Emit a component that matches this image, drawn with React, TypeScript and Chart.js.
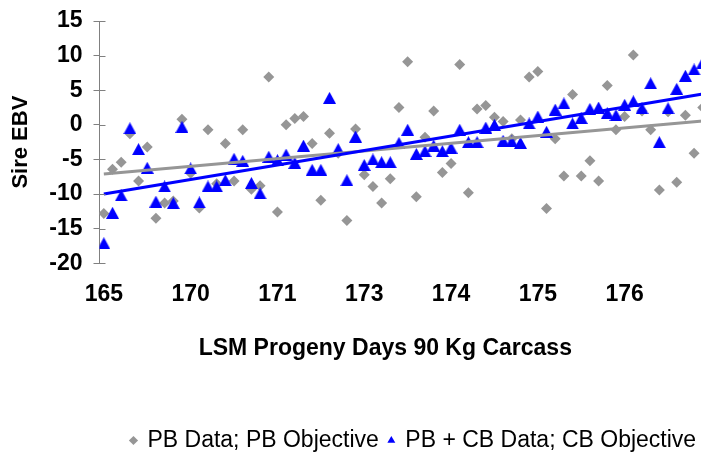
import React, { useEffect, useRef } from 'react';
import { Chart, registerables } from 'chart.js';

Chart.register(...registerables);

// Tick labels shown on the category axis (every 10th sire)
const tickLabels = ['165', '170', '171', '173', '174', '175', '176'];

// PB Data; PB Objective (grey diamonds), one value per sire in sorted order
const pbData = [
  -12.8, -6.4, -5.4, -1.3, -8.1, -3.2, -13.5, -11.3, -11.0, 0.8,
  -7.0, -12.0, -0.7, -8.5, -2.7, -8.1, -0.7, -9.3, -8.8, 6.9,
  -12.6, 0.0, 0.9, 1.2, -2.7, -10.9, -1.2, -4.1, -13.8, -0.6,
  -7.2, -8.9, -11.3, -7.8, 2.5, 9.1, -10.4, -1.8, 2.0, -6.9,
  -5.6, 8.7, -9.8, 2.3, 2.8, 1.1, 0.5, -2.0, 0.7, 6.9,
  7.7, -12.1, -2.0, -7.4, 4.4, -7.4, -5.2, -8.1, 5.7, -0.7,
  1.2, 10.1, 2.0, -0.7, -9.4, 1.9, -8.3, 1.4, -4.1, 2.5,
];

// PB + CB Data; CB Objective (blue triangles)
const cbData = [
  -17.1, -12.7, -10.2, -0.5, -3.5, -6.2, -11.1, -8.9, -11.3, -0.3,
  -6.3, -11.2, -8.9, -8.9, -8.0, -4.9, -5.2, -8.4, -9.9, -4.6,
  -5.1, -4.3, -5.5, -3.0, -6.5, -6.5, 3.9, -3.5, -8.0, -1.7,
  -5.8, -5.0, -5.4, -5.4, -2.6, -0.7, -4.2, -3.8, -3.0, -3.8,
  -3.3, -0.7, -2.5, -2.5, -0.4, 0.0, -2.3, -2.4, -2.6, 0.2,
  1.2, -1.0, 2.2, 3.1, 0.2, 1.0, 2.3, 2.5, 1.7, 1.4,
  2.9, 3.4, 2.4, 6.0, -2.5, 2.4, 5.2, 7.1, 8.0, 9.0,
];

// Linear trend lines (start / end values at first and last sire)
const trendX = [0, 69];
const pbTrend = [-7.1, 0.55];
const cbTrend = [-10.0, 4.45];

const GREY = '#969696';
const BLUE = '#0000FF';
const FONT = 'Liberation Sans, Arial, sans-serif';
const LEGEND_SHIFT = 56;
const XTITLE_SHIFT = -18;

function makeTriangle(): HTMLCanvasElement {
  const c = document.createElement('canvas');
  c.width = 13;
  c.height = 12;
  const g = c.getContext('2d')!;
  g.fillStyle = BLUE;
  g.beginPath();
  g.moveTo(6.5, 0);
  g.lineTo(13, 12);
  g.lineTo(0, 12);
  g.closePath();
  g.fill();
  return c;
}

const customPlugin = {
  id: 'customAxisLegend',
  afterLayout(chart: any) {
    const lg = chart.legend;
    if (lg) {
      lg.left += LEGEND_SHIFT;
      lg.right += LEGEND_SHIFT;
    }
  },
  beforeDraw(chart: any) {
    // move only the x-axis title (drawn with the scale, before the datasets)
    const xs = chart.scales.x;
    xs.left += XTITLE_SHIFT;
    xs.right += XTITLE_SHIFT;
  },
  beforeDatasetsDraw(chart: any) {
    const xs = chart.scales.x;
    xs.left -= XTITLE_SHIFT;
    xs.right -= XTITLE_SHIFT;
  },
  afterDatasetsDraw(chart: any) {
    const y = chart.scales.y;
    const ctx = chart.ctx;
    const left = chart.chartArea.left;
    ctx.save();
    ctx.strokeStyle = '#808080';
    ctx.lineWidth = 1;
    y.ticks.forEach((t: any) => {
      const py = Math.round(y.getPixelForValue(t.value)) + 0.5;
      ctx.beginPath();
      ctx.moveTo(left, py);
      ctx.lineTo(left + 6, py);
      ctx.stroke();
    });
    ctx.restore();
  },
};

export default function App() {
  const ref = useRef<HTMLCanvasElement | null>(null);

  useEffect(() => {
    if (!ref.current) return;
    const tri = makeTriangle();
    const pbPoints = pbData.map((v, i) => ({ x: i, y: v }));
    const cbPoints = cbData.map((v, i) => ({ x: i, y: v }));
    const pbLine = trendX.map((x, i) => ({ x, y: pbTrend[i] }));
    const cbLine = trendX.map((x, i) => ({ x, y: cbTrend[i] }));

    const chart = new Chart(ref.current, {
      type: 'scatter',
      data: {
        datasets: [
          {
            label: 'PB Data; PB Objective',
            data: pbPoints,
            pointStyle: 'rectRot',
            pointRadius: 5.5,
            pointBackgroundColor: GREY,
            backgroundColor: GREY,
            borderColor: GREY,
            pointBorderWidth: 0,
            borderWidth: 0,
            order: 3,
          },
          {
            label: 'PB + CB Data; CB Objective',
            data: cbPoints,
            pointStyle: tri,
            pointRadius: 6,
            pointBackgroundColor: BLUE,
            backgroundColor: BLUE,
            borderColor: BLUE,
            pointBorderWidth: 0,
            borderWidth: 0,
            order: 2,
          },
          {
            label: 'PB trend',
            data: pbLine,
            showLine: true,
            pointRadius: 0,
            borderColor: GREY,
            backgroundColor: GREY,
            borderWidth: 3,
            order: 1,
          },
          {
            label: 'CB trend',
            data: cbLine,
            showLine: true,
            pointRadius: 0,
            borderColor: BLUE,
            backgroundColor: BLUE,
            borderWidth: 3,
            order: 0,
          },
        ],
      },
      options: {
        animation: false,
        responsive: false,
        devicePixelRatio: 1,
        layout: { padding: { top: 21, right: 110.9, bottom: 0, left: 8 } },
        scales: {
          x: {
            type: 'linear',
            min: -0.5,
            max: 69.5,
            grid: { display: false, drawTicks: false },
            border: { display: false },
            afterBuildTicks: (scale: any) => {
              scale.ticks = tickLabels.map((_, i) => ({ value: i * 10 }));
            },
            ticks: {
              autoSkip: false,
              maxRotation: 0,
              padding: 18,
              color: '#000',
              font: { family: FONT, size: 23, weight: 'bold' },
              callback: (v: any) => tickLabels[Math.round(Number(v) / 10)] ?? '',
            },
            title: {
              display: true,
              text: 'LSM Progeny Days 90 Kg Carcass',
              color: '#000',
              font: { family: FONT, size: 23, weight: 'bold' },
              padding: { top: 8.3, bottom: 56.2 },
            },
          },
          y: {
            min: -20,
            max: 15,
            afterFit: (scale: any) => {
              scale.width = 91.5;
            },
            grid: {
              drawOnChartArea: false,
              drawTicks: true,
              tickLength: 6,
              color: '#808080',
              lineWidth: 1,
            },
            border: { display: true, color: '#808080', width: 1 },
            ticks: {
              stepSize: 5,
              padding: 11,
              color: '#000',
              font: { family: FONT, size: 23, weight: 'bold', lineHeight: 0.1 },
            },
            title: {
              display: true,
              text: 'Sire EBV',
              color: '#000',
              font: { family: FONT, size: 22, weight: 'bold' },
              padding: { top: 0, bottom: 0 },
            },
          },
        },
        plugins: {
          tooltip: { enabled: false },
          legend: {
            position: 'bottom',
            labels: {
              usePointStyle: true,
              boxWidth: 5,
              boxHeight: 6.5,
              padding: 10,
              color: '#000',
              font: { family: FONT, size: 23, weight: 'normal' },
              filter: (item: any) => item.datasetIndex <= 1,
              sort: (a: any, b: any) => a.datasetIndex - b.datasetIndex,
              generateLabels: (ch: any) =>
                (Chart as any).defaults.plugins.legend.labels
                  .generateLabels(ch)
                  .map((l: any) => ({
                    ...l,
                    pointStyle: l.datasetIndex === 1 ? 'triangle' : 'rectRot',
                    fillStyle: l.datasetIndex === 1 ? BLUE : GREY,
                    strokeStyle: l.datasetIndex === 1 ? BLUE : GREY,
                    lineWidth: 0,
                    fontColor: '#000',
                  })),
            },
          },
        },
      },
      plugins: [customPlugin],
    } as any);

    return () => chart.destroy();
  }, []);

  return (
    <div
      style={{
        position: 'fixed',
        left: 0,
        top: 0,
        width: 701,
        height: 454,
        overflow: 'hidden',
        background: '#fff',
      }}
    >
      <canvas ref={ref} width={818} height={462} style={{ display: 'block', width: 818, height: 462 }} />
    </div>
  );
}
